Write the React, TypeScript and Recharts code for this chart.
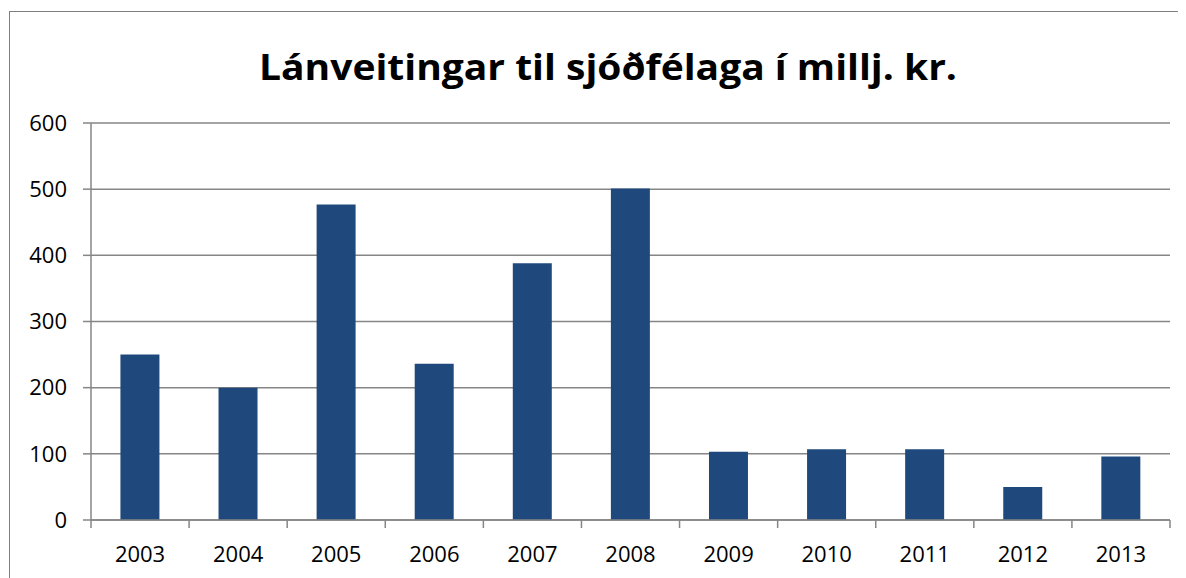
import React from "react";
import { BarChart, Bar, XAxis, YAxis, CartesianGrid } from "recharts";

const years = ["2003", "2004", "2005", "2006", "2007", "2008", "2009", "2010", "2011", "2012", "2013"];
const loans = [250, 200, 477, 236, 388, 501, 103, 107, 107, 50, 96];
const yTicks = [0, 100, 200, 300, 400, 500, 600];
const title = "Lánveitingar til sjóðfélaga í millj. kr.";

const data = years.map((y, i) => ({ year: y, value: loans[i] }));

const FONT = "'Open Sans', 'Noto Sans', sans-serif";
const AXIS = "#868686";

const XTick = (props: any) => {
  const { x, y, payload, index, width, visibleTicksCount } = props;
  const n = visibleTicksCount || years.length;
  const half = (width || 1079) / n / 2;
  const top = y - 8;
  return (
    <g>
      <line x1={x - half} x2={x - half} y1={top} y2={top + 8} stroke={AXIS} strokeWidth={1.5} />
      {index === n - 1 && (
        <line x1={x + half} x2={x + half} y1={top} y2={top + 8} stroke={AXIS} strokeWidth={1.5} />
      )}
      <text x={x} y={top + 42} textAnchor="middle" fontFamily={FONT} fontSize={22} fill="#000">
        {payload.value}
      </text>
    </g>
  );
};

export default function App() {
  return (
    <div style={{ position: "relative", width: 1178, height: 570, background: "#fff" }}>
      <div
        style={{
          position: "absolute",
          left: 1,
          top: 3,
          right: 0,
          bottom: 0,
          borderLeft: `1px solid #7f7f7f`,
          borderTop: `1px solid #7f7f7f`,
        }}
      />
      <svg style={{ position: "absolute", left: 0, top: 0 }} width={1178} height={110}>
        <text
          x={600}
          y={72}
          textAnchor="middle"
          fontFamily={FONT}
          fontWeight="bold"
          fontSize={35}
          textLength={698}
          lengthAdjust="spacingAndGlyphs"
          fill="#000"
        >
          {title}
        </text>
      </svg>
      <div style={{ position: "absolute", left: 0, top: 0 }}>
        <BarChart
          width={1178}
          height={570}
          data={data}
          margin={{ top: 115, right: 16, bottom: 28, left: 0 }}
          barCategoryGap="30%"
        >
          <CartesianGrid vertical={false} stroke={AXIS} strokeWidth={1.5} strokeDasharray="" />
          <XAxis
            dataKey="year"
            axisLine={{ stroke: AXIS, strokeWidth: 1.5 }}
            tickLine={false}
            tickSize={8}
            tickMargin={0}
            height={30}
            interval={0}
            tick={<XTick />}
          />
          <YAxis
            domain={[0, 600]}
            ticks={yTicks}
            width={83}
            axisLine={{ stroke: AXIS, strokeWidth: 1.5 }}
            tickLine={{ stroke: AXIS, strokeWidth: 1.5 }}
            tickSize={8}
            tickMargin={16}
            tick={{ fontFamily: FONT, fontSize: 22, fill: "#000" }}
            interval={0}
          />
          <Bar dataKey="value" fill="#1F497D" isAnimationActive={false} />
        </BarChart>
      </div>
    </div>
  );
}
